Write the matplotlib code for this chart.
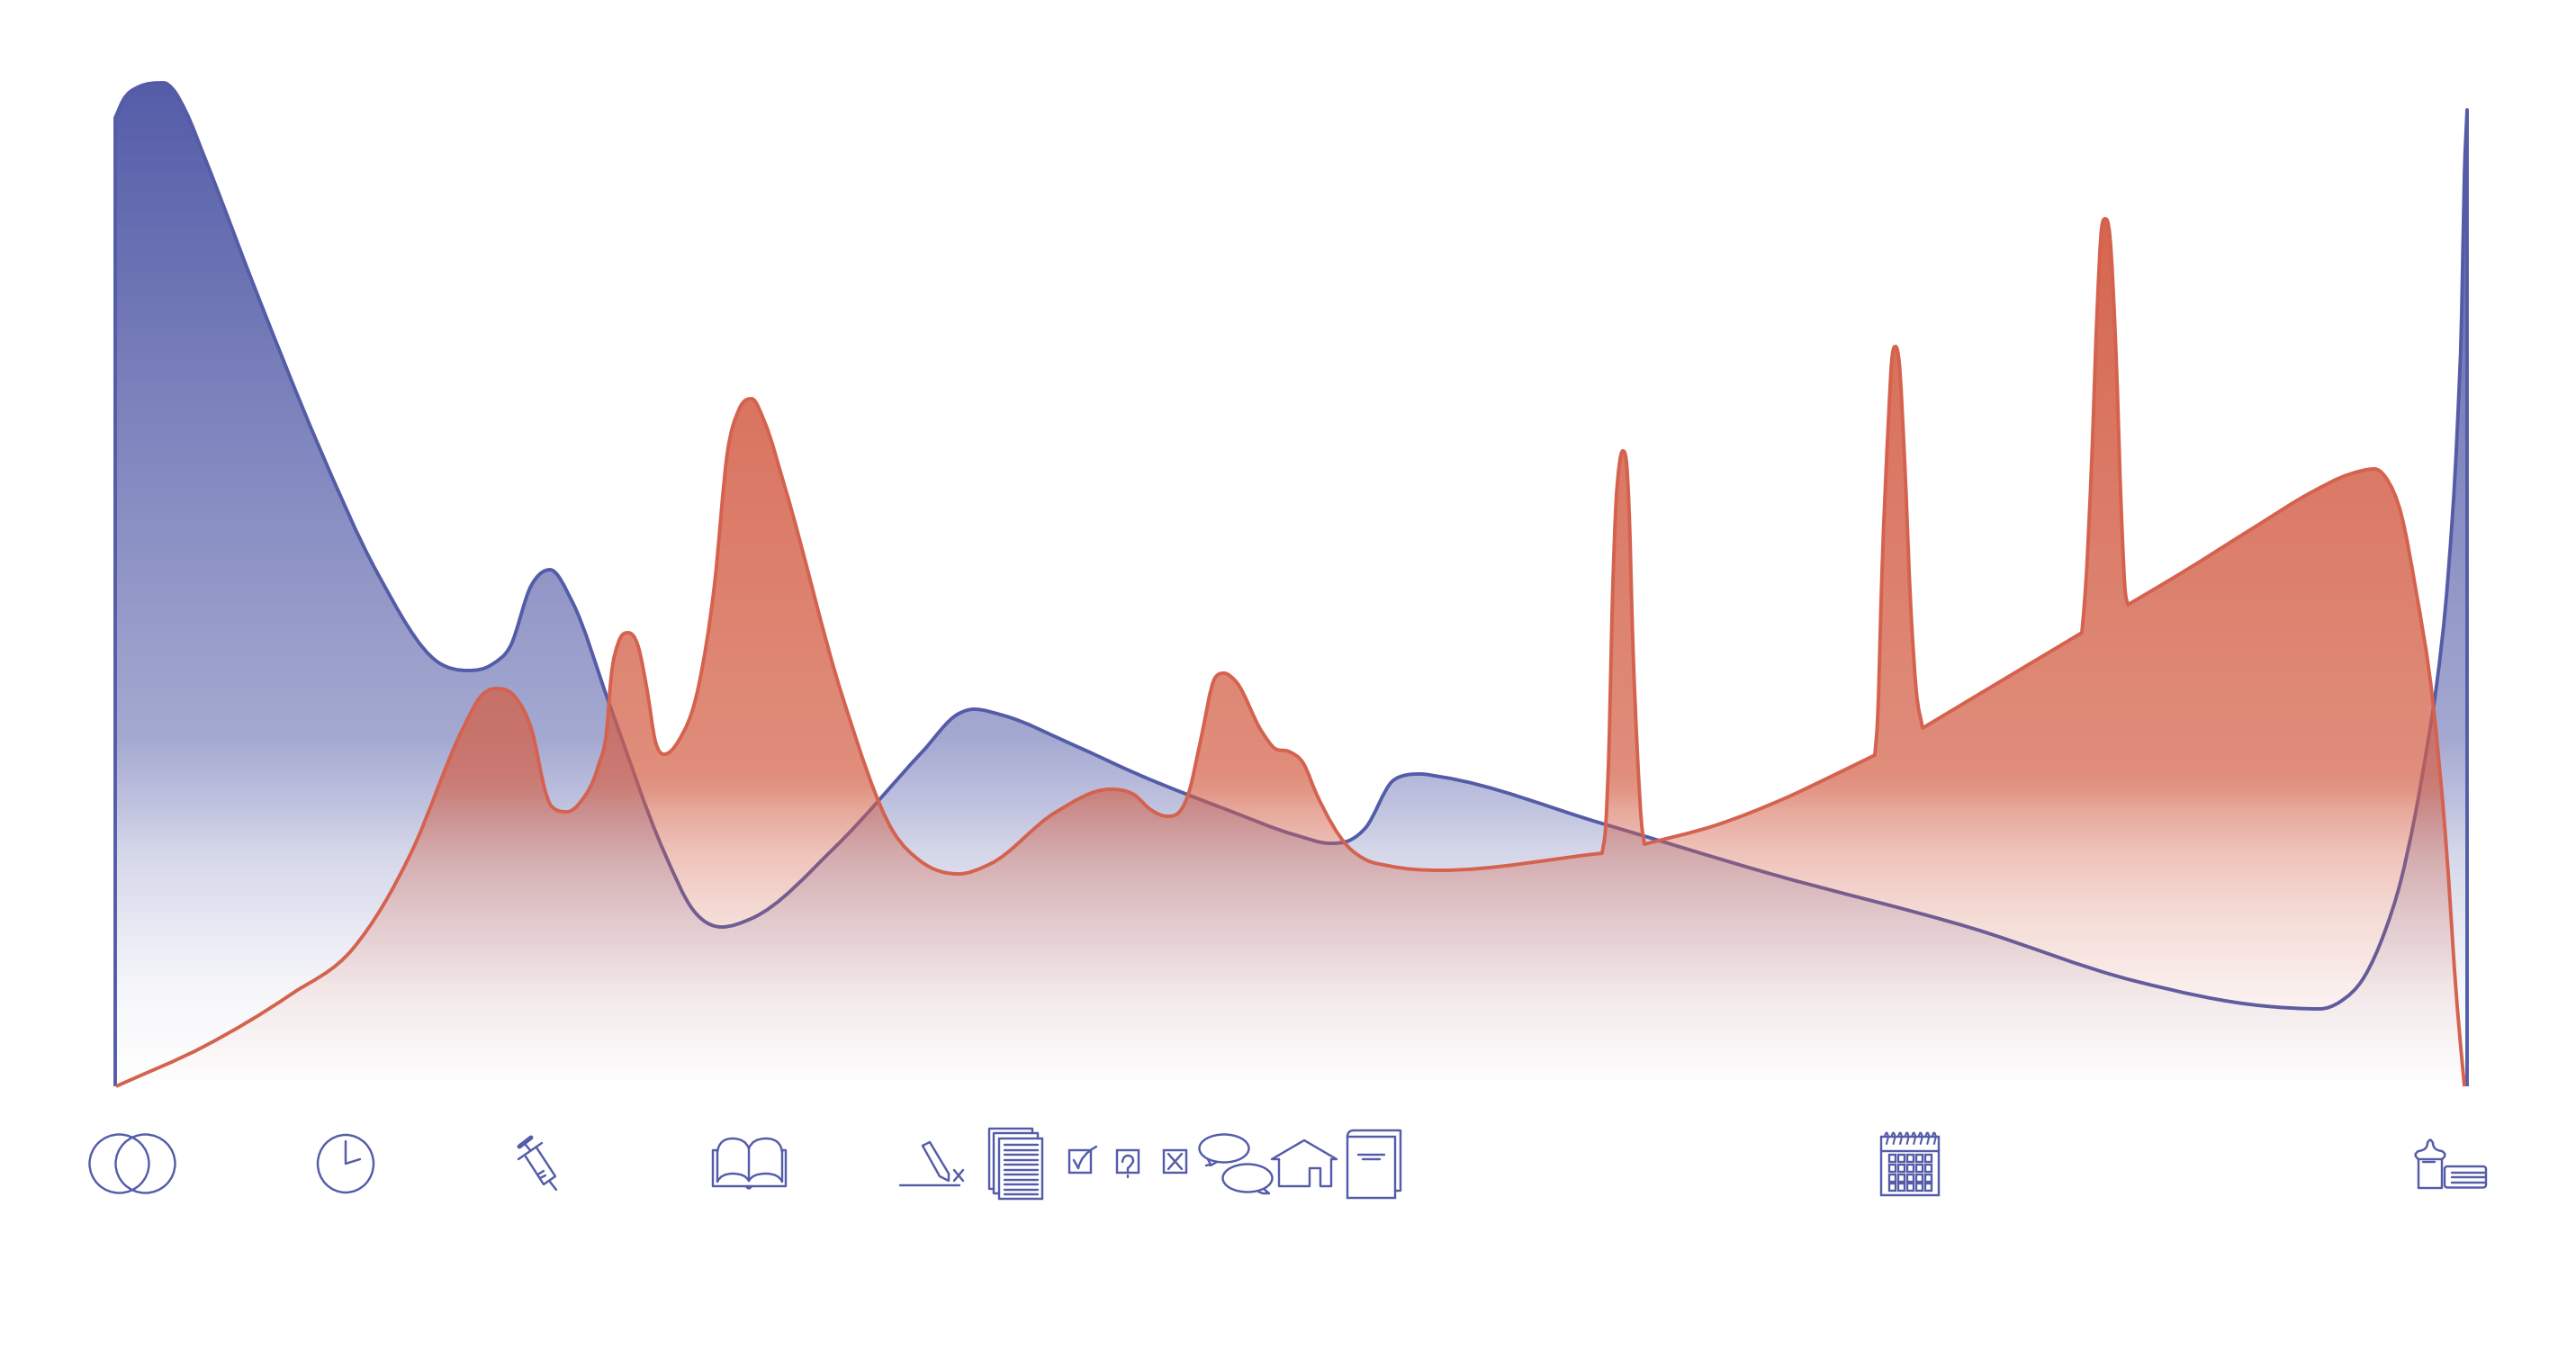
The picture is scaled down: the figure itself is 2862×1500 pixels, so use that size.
import numpy as np
import matplotlib
matplotlib.use("Agg")
import matplotlib.pyplot as plt
from matplotlib.path import Path
from matplotlib.patches import PathPatch, Ellipse, Rectangle, FancyBboxPatch

# ---- data: position along the timeline and height above the baseline ----
blue_x = [128,137,153,182,192,207,227,287,353,420,487,520,547,567,590,611,636,677,738,770,802,834,929,1025,1065,1082,1115,1191,1268,1364,1440,1478,1501,1517,1547,1563,1578,1600,1780,1964,2190,2372,2518,2577,2600,2627,2650,2667,2683,2697,2707,2720,2730,2735,2738,2741]
blue_v = [1076,1096,1110,1115,1108,1082,1033,877,714,569,471,462,469,489,556,574,538,425,260,196,177,186,267,372,414,419,412,380,345,307,279,270,274,287,339,346,347,344,292,237,176,117,89,86,94,122,173,227,300,380,445,569,729,860,1012,1085]
blue_corners = []
red_x = [129,228,323,393,425,457,515,534,550,572,591,607,612,630,645,665,674,679,687,698,709,719,728,738,754,776,794,808,821,835,850,872,936,993,1023,1065,1100,1172,1233,1260,1279,1297,1312,1321,1333,1350,1360,1373,1402,1417,1432,1448,1463,1497,1517,1543,1600,1780,1784,1788,1791,1795,1799,1803,1807,1810,1814,1819,1824,1827,1906,1983,2040,2083,2086,2091,2098,2102,2106,2110,2116,2123,2129,2136,2216,2313,2317,2324,2330,2335,2339,2344,2351,2357,2361,2364,2423,2506,2568,2610,2638,2651,2668,2684,2703,2717,2730,2738]
red_v = [0,45,102,154,200,260,399,433,442,433,395,324,312,305,316,357,395,455,493,504,489,440,384,369,384,444,559,703,752,764,737,666,433,282,250,236,247,304,330,324,307,300,307,327,380,454,459,450,394,375,372,359,324,267,252,245,240,259,290,390,524,640,690,706,694,640,497,374,290,269,290,320,347,368,407,573,738,809,822,805,697,531,440,398,446,504,552,697,863,954,964,946,813,635,552,535,570,622,660,680,686,676,635,552,427,278,89,0]
red_corners = [1780,1827,2083,2136,2313,2364]

BLUE = '#545CA8'
RED = '#D4624E'
W, H = 2862, 1500
BASE = 1207


def run_slopes(x, y):
    h = np.diff(x); d = np.diff(y) / h
    m = np.zeros_like(y)
    for i in range(1, len(y) - 1):
        if d[i-1] * d[i] > 0:
            avg = (h[i]*d[i-1] + h[i-1]*d[i]) / (h[i] + h[i-1])
            lim = 3 * min(abs(d[i-1]), abs(d[i]))
            m[i] = np.sign(avg) * min(abs(avg), lim)
    m[0], m[-1] = d[0], d[-1]
    return m


def curve_cmds(x, y, corners):
    """Smooth cubic through the read points, as Bezier segments; tangent breaks at corners."""
    x, y = np.asarray(x, float), np.asarray(y, float)
    cuts = [0] + [int(np.where(x == c)[0][0]) for c in corners] + [len(x) - 1]
    verts, codes = [], []
    for a, b in zip(cuts[:-1], cuts[1:]):
        rx, ry = x[a:b+1], y[a:b+1]
        m = run_slopes(rx, ry)
        for i in range(len(rx) - 1):
            h = rx[i+1] - rx[i]
            verts += [(rx[i] + h/3, ry[i] + m[i]*h/3), (rx[i+1] - h/3, ry[i+1] - m[i+1]*h/3), (rx[i+1], ry[i+1])]
            codes += [Path.CURVE4] * 3
    return verts, codes


def series_paths(x, v, corners, close_edges):
    cv, cc = curve_cmds(x, v, corners)
    fill = Path([(x[0], 0), (x[0], v[0])] + cv + [(x[-1], 0), (x[0], 0)],
                [Path.MOVETO, Path.LINETO] + cc + [Path.LINETO, Path.CLOSEPOLY])
    if close_edges:
        line = Path([(x[0], 0), (x[0], v[0])] + cv + [(x[-1], 0)],
                    [Path.MOVETO, Path.LINETO] + cc + [Path.LINETO])
    else:
        line = Path([(x[0], v[0])] + cv, [Path.MOVETO] + cc)
    return fill, line


def gradient_fill(ax, path, rgb, stops_px, stops_a, z):
    ys = np.arange(H) + 0.5
    alpha = np.interp(ys, stops_px, stops_a)
    img = np.zeros((H, 1, 4))
    img[..., 0], img[..., 1], img[..., 2] = rgb
    img[:, 0, 3] = alpha
    im = ax.imshow(img, extent=(0, W, BASE - H, BASE), aspect='auto', origin='upper',
                   interpolation='nearest', zorder=z)
    clip = PathPatch(path, transform=ax.transData, facecolor='none', edgecolor='none')
    ax.add_patch(clip)
    im.set_clip_path(clip)


fig = plt.figure(figsize=(W/100, H/100), dpi=100, facecolor='white')
ax = fig.add_axes([0, 0, 1, 1])
ax.set_axis_off()

bf, bl = series_paths(blue_x, blue_v, blue_corners, True)
rf, rl = series_paths(red_x, red_v, red_corners, False)

gradient_fill(ax, bf, (84/255, 92/255, 168/255),
              [92, 820, 900, 950, 1100, 1207], [1.0, 0.53, 0.36, 0.24, 0.05, 0.0], 1)
ax.add_patch(PathPatch(bl, facecolor='none', edgecolor=BLUE, lw=2.8, zorder=2, joinstyle='round'))
gradient_fill(ax, rf, (212/255, 97/255, 73/255),
              [243, 520, 860, 880, 900, 950, 1015, 1110, 1207], [0.97, 0.85, 0.72, 0.66, 0.55, 0.37, 0.23, 0.09, 0.0], 3)
ax.add_patch(PathPatch(rl, facecolor='none', edgecolor=RED, lw=2.8, zorder=4, joinstyle='round'))
ax.set_xlim(0, W)
ax.set_ylim(BASE - H, BASE)

# ---- icon strip along the bottom, pixel space ----
ic = fig.add_axes([0, 0, 1, 1])
ic.set_axis_off()
ic.patch.set_alpha(0)
ic.set_xlim(0, W)
ic.set_ylim(H, 0)
LW = 1.75


def ln(*pts, lw=LW):
    xs, ys = zip(*pts)
    ic.plot(xs, ys, color=BLUE, lw=lw, solid_capstyle='round', solid_joinstyle='round')


def ell(cx, cy, rx, ry, lw=LW):
    ic.add_patch(Ellipse((cx, cy), 2*rx, 2*ry, fill=False, edgecolor=BLUE, lw=lw))


def rect(x0, y0, x1, y1, lw=LW):
    ic.add_patch(Rectangle((x0, y0), x1-x0, y1-y0, fill=False, edgecolor=BLUE, lw=lw))


def quad(p0, c, p1, lw=LW):
    ic.add_patch(PathPatch(Path([p0, c, p1], [Path.MOVETO, Path.CURVE3, Path.CURVE3]),
                           fill=False, edgecolor=BLUE, lw=lw, capstyle='round'))


# venn
ell(132.5, 1293, 33, 32.5); ell(161.5, 1293, 33, 32.5)
# clock
ell(384, 1293, 31, 32); ln((384, 1268), (384, 1293), (400, 1288))
# syringe
ln((577, 1274), (590, 1264), lw=3.6); ln((584, 1272), (589, 1278)); ln((576, 1288), (602, 1270))
ln((584, 1285), (604, 1316), (617, 1307), (596, 1275)); ln((611, 1313), (618, 1322))
ln((597.5, 1305), (604, 1301)); ln((600, 1309), (606, 1306))
# open book
ln((796, 1278), (792, 1278), (792, 1318), (873, 1318), (873, 1278), (869, 1278))
ln((797, 1313), (797, 1278)); ln((869, 1313), (869, 1278)); ln((832, 1276), (832, 1312))
quad((797, 1280), (799, 1265), (814, 1265)); quad((814, 1265), (828, 1265), (832, 1276))
quad((832, 1276), (836, 1265), (851, 1265)); quad((851, 1265), (867, 1265), (869, 1280))
quad((797, 1313), (801, 1304), (814, 1304)); quad((814, 1304), (828, 1304), (832, 1312))
quad((832, 1312), (836, 1304), (851, 1304)); quad((851, 1304), (865, 1304), (869, 1313))
quad((829, 1318), (832, 1323), (835, 1318))
# pencil + signature line
ln((1000, 1317), (1066, 1317))
ln((1025, 1273), (1033, 1269), (1054, 1304), (1054, 1312), (1044, 1307), (1025, 1273))
ln((1060, 1300), (1070, 1312)); ln((1070, 1300), (1060, 1312))
# stack of papers
ln((1104, 1321), (1099, 1321), (1099, 1254), (1147, 1254), (1147, 1259))
ln((1110, 1326), (1104, 1326), (1104, 1259), (1153, 1259), (1153, 1265))
rect(1110, 1265, 1158, 1332)
for row in range(11):
    ln((1116, 1272 + 5.5*row), (1153, 1272 + 5.5*row))
# check box
rect(1188, 1278, 1212, 1303); ln((1193, 1289), (1198, 1298)); quad((1198, 1298), (1201, 1283), (1218, 1274))
# question box
rect(1241, 1278, 1265, 1303)
quad((1247, 1291), (1248, 1284), (1253, 1284)); quad((1253, 1284), (1259, 1284), (1259, 1290))
quad((1259, 1290), (1258, 1294), (1253, 1298)); ln((1253, 1298), (1253, 1303)); ln((1253, 1306), (1253, 1308))
# cross box
rect(1293, 1278, 1318, 1303); ln((1298, 1282), (1313, 1299)); ln((1313, 1282), (1298, 1299))
# speech bubbles
ell(1360, 1276, 27.5, 15.5); ln((1342, 1288), (1345, 1294), (1340, 1295)); ln((1345, 1295), (1352, 1291))
ell(1386, 1309, 27.5, 15.5); ln((1404, 1321), (1410, 1326), (1403, 1326), (1398, 1324))
# house
ln((1421, 1288), (1413, 1288), (1449, 1267), (1485, 1288), (1479, 1288))
ln((1421, 1288), (1421, 1318), (1455, 1318), (1455, 1298), (1467, 1298), (1467, 1318), (1479, 1318), (1479, 1288))
# closed book
rect(1497, 1263, 1550, 1331)
quad((1497, 1263), (1497, 1256), (1504, 1256)); ln((1504, 1256), (1556, 1256), (1556, 1323), (1550, 1323))
ln((1509, 1283), (1538, 1283)); ln((1514, 1288), (1533, 1288))
# calendar
rect(2090, 1263, 2154, 1328); ln((2090, 1279), (2154, 1279))
for s in range(8):
    sx = 2096 + s*7.55
    quad((sx-2, 1263), (sx, 1254), (sx+2, 1263), lw=1.5); ln((sx+2, 1263), (sx, 1271), lw=1.5)
for r in range(4):
    for c in range(5):
        rect(2098.5 + c*10, 1283 + r*10.8, 2106 + c*10, 1291 + r*10.8, lw=1.7)
# bottle + towels
ln((2687, 1288), (2687, 1320), (2713, 1320), (2713, 1288))
quad((2687, 1288), (2680, 1283), (2687, 1279)); quad((2713, 1288), (2720, 1283), (2713, 1279))
ln((2687, 1288), (2713, 1288))
quad((2687, 1279), (2697, 1278), (2697, 1270)); quad((2713, 1279), (2703, 1278), (2703, 1270))
quad((2697, 1270), (2700, 1263), (2703, 1270))
ln((2692, 1291), (2705, 1291))
ic.add_patch(FancyBboxPatch((2719, 1299), 40, 17.5, boxstyle='round,pad=3', fill=False,
                            edgecolor=BLUE, lw=LW))
for ty in (1302.5, 1308, 1314):
    ln((2724, ty), (2761, ty))

fig.savefig('out.png', dpi=100, facecolor='white')
